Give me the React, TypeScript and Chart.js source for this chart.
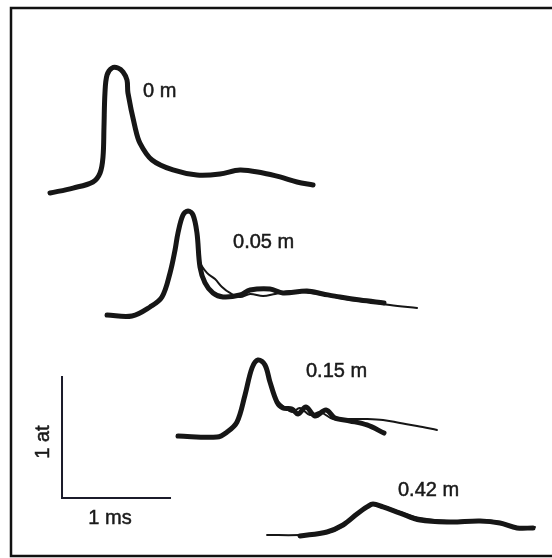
import React, { useEffect, useRef } from "react";
import { Chart, registerables } from "chart.js";

Chart.register(...registerables);

// Pressure traces: time (ms) and pressure (at, with vertical offset per station)
const t0m = [0.358, 0.569, 0.752, 0.817, 0.844, 0.853, 0.862, 0.881, 0.927, 0.982, 1.028, 1.064, 1.073, 1.138, 1.183, 1.294, 1.486, 1.706, 1.917, 2.101, 2.312, 2.468, 2.624, 2.771];
const p0m = [2.975, 3.016, 3.066, 3.139, 3.27, 3.516, 3.795, 3.943, 4.0, 4.0, 3.967, 3.902, 3.795, 3.516, 3.385, 3.246, 3.164, 3.123, 3.131, 3.164, 3.139, 3.107, 3.066, 3.041];

const t005a = [0.881, 1.11, 1.275, 1.385, 1.459, 1.505, 1.532, 1.578, 1.624, 1.67, 1.706, 1.734, 1.78, 1.853, 1.945, 2.101, 2.193, 2.376, 2.495, 2.716, 2.862, 3.018, 3.202, 3.422];
const p005a = [1.975, 1.967, 2.041, 2.123, 2.32, 2.508, 2.648, 2.795, 2.828, 2.795, 2.648, 2.369, 2.238, 2.156, 2.123, 2.139, 2.18, 2.189, 2.156, 2.172, 2.148, 2.123, 2.098, 2.074];
const t005b = [0.881, 1.11, 1.275, 1.385, 1.459, 1.532, 1.578, 1.624, 1.67, 1.706, 1.734, 1.798, 1.872, 1.936, 2.009, 2.101, 2.193, 2.312, 2.422, 2.56, 2.743, 2.927, 3.11, 3.294, 3.477, 3.725];
const p005b = [1.975, 1.967, 2.033, 2.115, 2.303, 2.631, 2.787, 2.82, 2.787, 2.631, 2.41, 2.32, 2.27, 2.205, 2.156, 2.123, 2.148, 2.131, 2.148, 2.172, 2.156, 2.131, 2.098, 2.082, 2.057, 2.033];

const t015a = [1.532, 1.89, 1.982, 2.073, 2.147, 2.211, 2.266, 2.33, 2.376, 2.44, 2.495, 2.578, 2.633, 2.706, 2.789, 2.89, 2.972, 3.11, 3.266, 3.422];
const p015a = [0.984, 0.975, 1.016, 1.098, 1.32, 1.541, 1.607, 1.566, 1.426, 1.262, 1.213, 1.205, 1.164, 1.221, 1.148, 1.197, 1.131, 1.107, 1.074, 1.008];
const t015b = [1.532, 1.89, 1.982, 2.073, 2.147, 2.211, 2.266, 2.33, 2.376, 2.44, 2.495, 2.578, 2.651, 2.743, 2.835, 2.954, 3.11, 3.266, 3.413, 3.569, 3.725, 3.908];
const p015b = [0.984, 0.975, 1.016, 1.107, 1.336, 1.549, 1.607, 1.557, 1.41, 1.279, 1.23, 1.18, 1.213, 1.156, 1.18, 1.123, 1.123, 1.123, 1.115, 1.09, 1.066, 1.033];

const t042a = [2.651, 2.899, 3.046, 3.174, 3.266, 3.321, 3.413, 3.569, 3.752, 4.028, 4.303, 4.486, 4.642, 4.789];
const p042a = [0.164, 0.197, 0.254, 0.344, 0.402, 0.426, 0.402, 0.352, 0.295, 0.279, 0.287, 0.27, 0.23, 0.23];
const t042b = [2.349, 2.651, 2.899, 3.018, 3.128, 3.22, 3.312, 3.413, 3.569, 3.752, 4.028, 4.303, 4.486, 4.642, 4.807];
const p042b = [0.172, 0.172, 0.189, 0.23, 0.311, 0.377, 0.426, 0.41, 0.361, 0.311, 0.287, 0.295, 0.279, 0.238, 0.238];

// Scale bar: 1 ms by 1 at
const barT = [0.468, 0.468, 1.468];
const barP = [1.475, 0.475, 0.475];

// Station labels (text, anchor time, anchor pressure)
const labelTexts = ["0 m", "0.05 m", "0.15 m", "0.42 m"];
const labelT = [1.211, 2.037, 2.706, 3.55];
const labelP = [3.811, 2.566, 1.516, 0.533];

const scaleTexts = ["1 ms", "1 at"];
const scaleT = [0.908, 0.294];
const scaleP = [0.311, 0.934];

const X_MAX = 541 / 109;
const Y_MAX = 548 / 122;

const zip = (xs: number[], ys: number[]) => xs.map((x, i) => ({ x, y: ys[i] }));

export default function App() {
  const ref = useRef<HTMLCanvasElement | null>(null);

  useEffect(() => {
    if (!ref.current) return;
    const ink = "#161616";
    const trace = (xs: number[], ys: number[], w: number) => ({
      data: zip(xs, ys),
      borderColor: ink,
      borderWidth: w,
      pointRadius: 0,
      tension: 0.35,
      borderCapStyle: "round" as const,
      borderJoinStyle: "round" as const,
    });

    const framePlugin = {
      id: "frameAndText",
      beforeDatasetsDraw(chart: any) {
        const { ctx, chartArea } = chart;
        ctx.save();
        ctx.strokeStyle = "#111";
        ctx.lineWidth = 2.5;
        ctx.beginPath();
        ctx.moveTo(chart.width + 2, chartArea.top);
        ctx.lineTo(chartArea.left, chartArea.top);
        ctx.lineTo(chartArea.left, chartArea.bottom);
        ctx.lineTo(chart.width + 2, chartArea.bottom);
        ctx.stroke();
        ctx.restore();
      },
      afterDatasetsDraw(chart: any) {
        const { ctx, scales } = chart;
        const xs = scales.x;
        const ys = scales.y;
        ctx.save();
        ctx.fillStyle = "#1a1a1a";
        ctx.strokeStyle = "#1a1a1a";
        ctx.lineWidth = 0.5;
        ctx.font = "20px 'Liberation Sans', Arial, sans-serif";
        ctx.textBaseline = "middle";
        ctx.textAlign = "left";
        labelTexts.forEach((txt, i) => {
          const px = xs.getPixelForValue(labelT[i]);
          const py = ys.getPixelForValue(labelP[i]);
          ctx.fillText(txt, px, py);
          ctx.strokeText(txt, px, py);
        });
        ctx.textAlign = "center";
        const mx = xs.getPixelForValue(scaleT[0]);
        const my = ys.getPixelForValue(scaleP[0]);
        ctx.fillText(scaleTexts[0], mx, my);
        ctx.strokeText(scaleTexts[0], mx, my);
        ctx.translate(xs.getPixelForValue(scaleT[1]), ys.getPixelForValue(scaleP[1]));
        ctx.rotate(-Math.PI / 2);
        ctx.fillText(scaleTexts[1], 0, 0);
        ctx.strokeText(scaleTexts[1], 0, 0);
        ctx.restore();
      },
    };

    const chart = new Chart(ref.current, {
      type: "line",
      data: {
        datasets: [
          trace(t0m, p0m, 5),
          trace(t005a, p005a, 5),
          trace(t005b, p005b, 2),
          trace(t015a, p015a, 5),
          trace(t015b, p015b, 2),
          trace(t042a, p042a, 5),
          trace(t042b, p042b, 2),
          {
            data: zip(barT, barP),
            borderColor: "#1b1b2a",
            borderWidth: 2,
            pointRadius: 0,
            tension: 0,
          },
        ],
      },
      options: {
        animation: false,
        responsive: false,
        maintainAspectRatio: false,
        layout: { padding: { left: 11, top: 8, right: 0, bottom: 2 } },
        plugins: { legend: { display: false }, tooltip: { enabled: false } },
        scales: {
          x: { type: "linear", min: 0, max: X_MAX, display: false },
          y: { type: "linear", min: 0, max: Y_MAX, display: false },
        },
      },
      plugins: [framePlugin],
    });
    return () => chart.destroy();
  }, []);

  return (
    <div style={{ position: "fixed", left: 0, top: 0, width: 552, height: 558, background: "#fff" }}>
      <canvas ref={ref} width={552} height={558} style={{ width: 552, height: 558 }} />
    </div>
  );
}
